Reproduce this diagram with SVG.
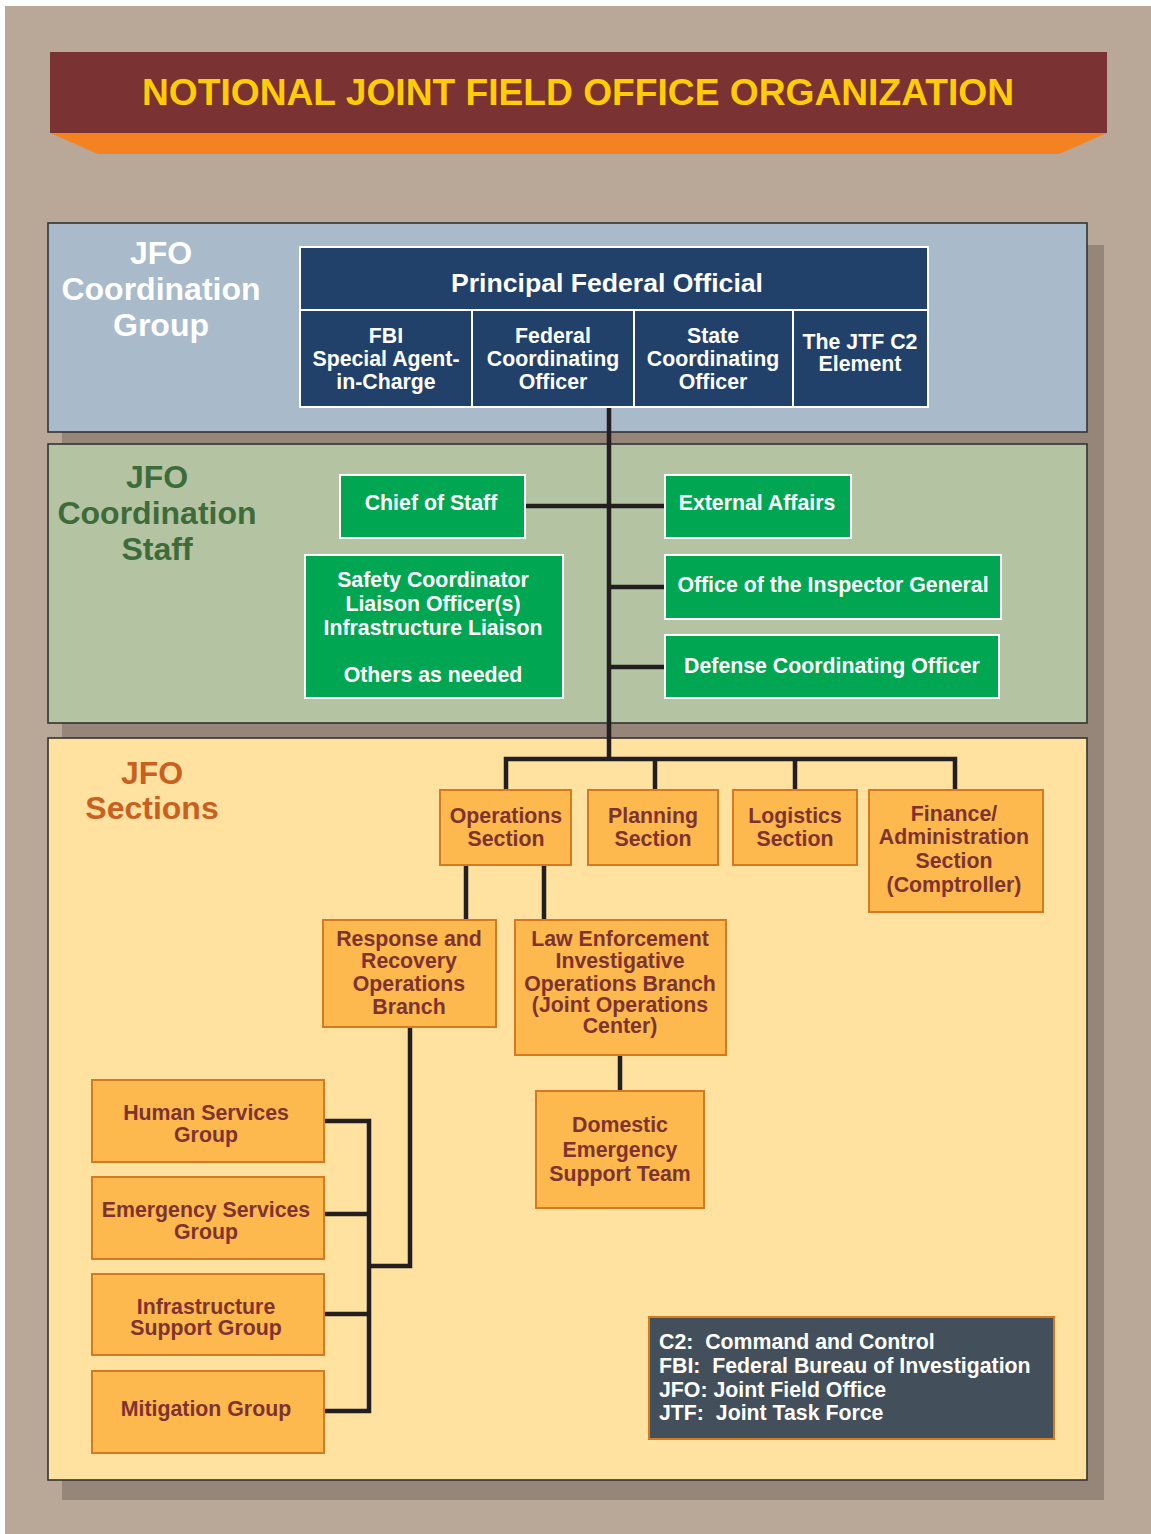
<svg xmlns="http://www.w3.org/2000/svg" width="1151" height="1534" viewBox="0 0 1151 1534">
<style>
text{font-family:"Liberation Sans",Arial,sans-serif;font-weight:bold;text-anchor:middle}
.panel{stroke:#333;stroke-width:1.6}
.navy{fill:#21416A;stroke:#fff;stroke-width:2}
.navyt{fill:#fff;font-size:21.3px}
.pfot{fill:#fff;font-size:25px}
.green{fill:#00A651;stroke:#fff;stroke-width:2}
.greent{fill:#fff;font-size:21.3px}
.org{fill:#FDB84E;stroke:#D67A22;stroke-width:2}
.orgt{fill:#7D3330;font-size:21.3px}
.lbl{font-size:32px}
.conn{stroke:#231F20;stroke-width:4.5;fill:none}
.leg{fill:#fff;font-size:21.3px;text-anchor:start}
</style>
<rect x="0" y="0" width="1151" height="1534" fill="#fff"/>
<rect x="5" y="6" width="1146" height="1528" fill="#B9A798"/>
<g id="header">
<rect x="50" y="52" width="1057" height="81" fill="#7A3232"/>
<polygon points="50,133 1107,133 1059,154 98,154" fill="#F58220"/>
<text x="578" y="105" font-size="37" fill="#FFCC05" textLength="872" lengthAdjust="spacingAndGlyphs">NOTIONAL JOINT FIELD OFFICE ORGANIZATION</text>
</g>
<rect x="62" y="245" width="1042" height="1255" fill="#968579"/>
<g id="panel-group">
<rect class="panel" x="48" y="223" width="1039" height="209" fill="#A9BACB"/>
<text class="lbl" x="161" y="264" fill="#fff">JFO</text>
<text class="lbl" x="161" y="300" fill="#fff">Coordination</text>
<text class="lbl" x="161" y="336" fill="#fff">Group</text>
</g>
<g id="panel-staff">
<rect class="panel" x="48" y="444" width="1039" height="279" fill="#B4C4A3"/>
<text class="lbl" x="157" y="488" fill="#3E6B3A">JFO</text>
<text class="lbl" x="157" y="524" fill="#3E6B3A">Coordination</text>
<text class="lbl" x="157" y="560" fill="#3E6B3A">Staff</text>
</g>
<g id="panel-sections">
<rect class="panel" x="48" y="738" width="1039" height="742" fill="#FFE2A0"/>
<text class="lbl" x="152" y="784" fill="#C8601F">JFO</text>
<text class="lbl" x="152" y="819" fill="#C8601F">Sections</text>
</g>
<g id="connectors">
<path class="conn" d="M609,407 V759"/>
<path class="conn" d="M525,506 H665"/>
<path class="conn" d="M609,587 H665"/>
<path class="conn" d="M609,667 H665"/>
<path class="conn" d="M506,790 V759 H955 V790"/>
<path class="conn" d="M655,759 V790"/>
<path class="conn" d="M795,759 V790"/>
<path class="conn" d="M466,865 V920"/>
<path class="conn" d="M544,865 V920"/>
<path class="conn" d="M620,1055 V1091"/>
<path class="conn" d="M410,1027 V1266 H369"/>
<path class="conn" d="M324,1121 H369 V1411 H324"/>
<path class="conn" d="M324,1214 H369"/>
<path class="conn" d="M324,1314 H369"/>
</g>
<g id="pfo">
<rect class="navy" x="300" y="247" width="628" height="63"/>
<text class="pfot" x="607" y="292" textLength="312" lengthAdjust="spacingAndGlyphs">Principal Federal Official</text>
</g>
<g id="fbi">
<rect class="navy" x="300" y="310" width="172" height="97"/>
<text class="navyt" x="386" y="343">FBI</text>
<text class="navyt" x="386" y="366">Special Agent-</text>
<text class="navyt" x="386" y="389">in-Charge</text>
</g>
<g id="fco">
<rect class="navy" x="472" y="310" width="162" height="97"/>
<text class="navyt" x="553" y="343">Federal</text>
<text class="navyt" x="553" y="366">Coordinating</text>
<text class="navyt" x="553" y="389">Officer</text>
</g>
<g id="sco">
<rect class="navy" x="634" y="310" width="159" height="97"/>
<text class="navyt" x="713" y="343">State</text>
<text class="navyt" x="713" y="366">Coordinating</text>
<text class="navyt" x="713" y="389">Officer</text>
</g>
<g id="jtf">
<rect class="navy" x="793" y="310" width="135" height="97"/>
<text class="navyt" x="860" y="349">The JTF C2</text>
<text class="navyt" x="860" y="371">Element</text>
</g>
<g id="chief-of-staff">
<rect class="green" x="340" y="475" width="185" height="63"/>
<text class="greent" x="431" y="510">Chief of Staff</text>
</g>
<g id="external-affairs">
<rect class="green" x="665" y="475" width="186" height="63"/>
<text class="greent" x="757" y="510">External Affairs</text>
</g>
<g id="safety">
<rect class="green" x="305" y="555" width="258" height="143"/>
<text class="greent" x="433" y="587">Safety Coordinator</text>
<text class="greent" x="433" y="611">Liaison Officer(s)</text>
<text class="greent" x="433" y="635">Infrastructure Liaison</text>
<text class="greent" x="433" y="682">Others as needed</text>
</g>
<g id="oig">
<rect class="green" x="665" y="555" width="336" height="64"/>
<text class="greent" x="833" y="592">Office of the Inspector General</text>
</g>
<g id="dco">
<rect class="green" x="665" y="635" width="334" height="63"/>
<text class="greent" x="832" y="673">Defense Coordinating Officer</text>
</g>
<g id="operations">
<rect class="org" x="440" y="790" width="131" height="75"/>
<text class="orgt" x="506" y="823">Operations</text>
<text class="orgt" x="506" y="846">Section</text>
</g>
<g id="planning">
<rect class="org" x="588" y="790" width="130" height="75"/>
<text class="orgt" x="653" y="823">Planning</text>
<text class="orgt" x="653" y="846">Section</text>
</g>
<g id="logistics">
<rect class="org" x="733" y="790" width="124" height="75"/>
<text class="orgt" x="795" y="823">Logistics</text>
<text class="orgt" x="795" y="846">Section</text>
</g>
<g id="finance">
<rect class="org" x="869" y="790" width="174" height="122"/>
<text class="orgt" x="954" y="821">Finance/</text>
<text class="orgt" x="954" y="844">Administration</text>
<text class="orgt" x="954" y="868">Section</text>
<text class="orgt" x="954" y="892">(Comptroller)</text>
</g>
<g id="response-recovery">
<rect class="org" x="323" y="920" width="173" height="107"/>
<text class="orgt" x="409" y="946">Response and</text>
<text class="orgt" x="409" y="968">Recovery</text>
<text class="orgt" x="409" y="991">Operations</text>
<text class="orgt" x="409" y="1014">Branch</text>
</g>
<g id="law-enforcement">
<rect class="org" x="515" y="920" width="211" height="135"/>
<text class="orgt" x="620" y="946">Law Enforcement</text>
<text class="orgt" x="620" y="968">Investigative</text>
<text class="orgt" x="620" y="991">Operations Branch</text>
<text class="orgt" x="620" y="1012">(Joint Operations</text>
<text class="orgt" x="620" y="1033">Center)</text>
</g>
<g id="dest">
<rect class="org" x="536" y="1091" width="168" height="117"/>
<text class="orgt" x="620" y="1132">Domestic</text>
<text class="orgt" x="620" y="1157">Emergency</text>
<text class="orgt" x="620" y="1181">Support Team</text>
</g>
<g id="human-services">
<rect class="org" x="92" y="1080" width="232" height="82"/>
<text class="orgt" x="206" y="1120">Human Services</text>
<text class="orgt" x="206" y="1142">Group</text>
</g>
<g id="emergency-services">
<rect class="org" x="92" y="1177" width="232" height="82"/>
<text class="orgt" x="206" y="1217">Emergency Services</text>
<text class="orgt" x="206" y="1239">Group</text>
</g>
<g id="infrastructure-support">
<rect class="org" x="92" y="1274" width="232" height="81"/>
<text class="orgt" x="206" y="1314">Infrastructure</text>
<text class="orgt" x="206" y="1335">Support Group</text>
</g>
<g id="mitigation">
<rect class="org" x="92" y="1371" width="232" height="82"/>
<text class="orgt" x="206" y="1416">Mitigation Group</text>
</g>
<g id="legend">
<rect x="649" y="1317" width="405" height="122" fill="#434F5A" stroke="#D67A22" stroke-width="2"/>
<text class="leg" x="659" y="1349" xml:space="preserve">C2:  Command and Control</text>
<text class="leg" x="659" y="1373" xml:space="preserve">FBI:  Federal Bureau of Investigation</text>
<text class="leg" x="659" y="1397" xml:space="preserve">JFO: Joint Field Office</text>
<text class="leg" x="659" y="1420" xml:space="preserve">JTF:  Joint Task Force</text>
</g>
</svg>
